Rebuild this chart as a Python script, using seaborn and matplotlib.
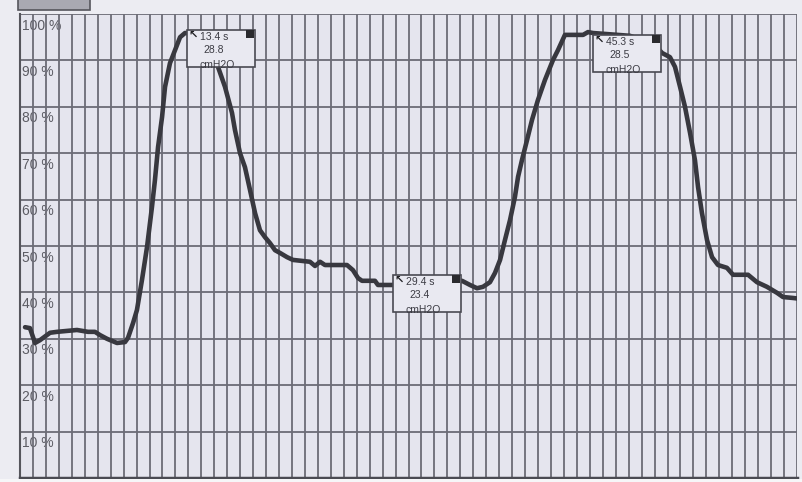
import numpy as np
import pandas as pd
import matplotlib
matplotlib.use("Agg")
import matplotlib.pyplot as plt
import seaborn as sns
from matplotlib.patches import Rectangle

# ---- data ----
time_s = [0.39, 0.77, 1.16, 1.54, 2.32, 2.86, 4.40, 5.25, 5.79, 6.18, 6.72, 7.49, 8.11, 8.34,
          8.73, 9.03, 9.42, 9.81, 10.19, 10.42, 10.66, 10.97, 11.20, 11.58, 11.97, 12.36, 12.74,
          13.90, 14.83, 15.29, 15.83, 16.37, 16.60, 16.99, 17.37, 17.76, 18.15, 18.53, 18.92,
          19.31, 19.69, 20.08, 20.62, 21.08, 22.39, 22.78, 23.17, 23.55, 25.25, 25.71, 26.10,
          26.41, 27.41, 27.64, 28.80, 31.66, 34.13, 34.75, 35.29, 35.75, 36.29, 36.68, 37.07,
          37.45, 37.84, 38.22, 38.46, 38.76, 39.15, 39.54, 40.00, 40.54, 41.16, 41.54, 42.08,
          43.48, 43.86, 44.25, 47.10, 49.03, 49.58, 50.19, 50.58, 50.97, 51.35, 51.74, 52.12,
          52.36, 52.66, 53.05, 53.44, 53.90, 54.59, 55.06, 56.22, 56.91, 57.68, 58.46, 58.92,
          59.69, 60.0]
saturation_pct = [32.5, 32.3, 29.1, 29.7, 31.3, 31.5, 31.9, 31.5, 31.5, 30.8, 30.0, 29.1, 29.3, 30.2,
                  33.4, 36.2, 42.7, 49.8, 58.4, 64.2, 71.3, 77.8, 84.3, 89.4, 92.2, 95.0, 95.9,
                  95.9, 93.3, 88.6, 84.3, 78.7, 75.0, 70.0, 67.0, 62.1, 57.1, 53.4, 51.9,
                  50.6, 49.1, 48.5, 47.6, 47.0, 46.6, 45.7, 46.6, 45.9, 45.9, 44.8, 43.1,
                  42.5, 42.5, 41.6, 41.6, 41.8, 42.5, 41.6, 40.9, 41.2, 42.2, 44.2, 47.0,
                  51.3, 55.6, 60.6, 64.9, 68.5, 72.8, 77.2, 81.5, 85.8, 90.1, 92.2, 95.5,
                  95.5, 96.1, 95.9, 95.3, 93.3, 91.6, 90.7, 88.6, 84.3, 80.0, 74.4, 68.5,
                  62.7, 57.1, 51.3, 47.6, 45.9, 45.3, 43.8, 43.8, 42.2, 41.2, 39.9, 39.0,
                  38.8, 38.7]
y_ticks = [10, 20, 30, 40, 50, 60, 70, 80, 90, 100]
y_tick_labels = ["10 %", "20 %", "30 %", "40 %", "50 %", "60 %", "70 %", "80 %", "90 %", "100 %"]
marker_time_labels = ["13.4 s", "29.4 s", "45.3 s"]
marker_value_labels = ["28.8", "23.4", "28.5"]
marker_unit = "cmH2O"

# ---- layout constants ----
W, H = 802, 482
AX_L, AX_R, AX_TOP, AX_BOT = 20, 797, 14, 478
PX_T = (AX_R - AX_L) / 60.0
PX_P = (AX_BOT - AX_TOP) / 100.0
box_left_px = [187, 393, 593]
box_top_px = [30, 275, 35]
BOX_W, BOX_H = 68, 37

BG = "#e5e5ee"
GRID = "#6c6c76"
LINE = "#38383f"

sns.set_style("white")
plt.rcParams["font.family"] = ["Liberation Sans", "DejaVu Sans"]

fig = plt.figure(figsize=(W / 100, H / 100), dpi=100)
fig.patch.set_facecolor("#ececf2")
ax = fig.add_axes([AX_L / W, (H - AX_BOT) / H, (AX_R - AX_L) / W, (AX_BOT - AX_TOP) / H])
ax.set_facecolor(BG)

df = pd.DataFrame({"t": time_s, "p": saturation_pct})
sns.lineplot(data=df, x="t", y="p", ax=ax, color=LINE, linewidth=3.3,
             estimator=None, sort=False, zorder=3)

ax.set_xlim(0, 60)
ax.set_ylim(0, 100)
ax.set_xticks(np.arange(0, 61, 1))
ax.set_yticks([0] + y_ticks)
ax.grid(True, color=GRID, linewidth=1.3)
ax.set_axisbelow(True)
ax.tick_params(length=0, labelbottom=False, labelleft=False)
ax.set_xlabel("")
ax.set_ylabel("")
for s in ["top", "right"]:
    ax.spines[s].set_visible(False)
ax.spines["left"].set_color("#55555c")
ax.spines["left"].set_linewidth(1.5)
ax.spines["bottom"].set_color("#4a4a52")
ax.spines["bottom"].set_linewidth(2.5)

# y labels inside plot, just below each gridline
for v, lab in zip(y_ticks, y_tick_labels):
    ax.text(0.15, v - 1.0, lab, ha="left", va="top", fontsize=10, color="#5c5c64", zorder=0.4)

# marker boxes
for bl, bt, tl, vl in zip(box_left_px, box_top_px, marker_time_labels, marker_value_labels):
    x0 = (bl - AX_L) / PX_T
    w = BOX_W / PX_T
    ytop = (AX_BOT - bt) / PX_P
    h = BOX_H / PX_P
    rect = Rectangle((x0, ytop - h), w, h, facecolor="#e9e9f1", edgecolor="#4a4a52",
                     linewidth=1.2, zorder=5)
    ax.add_patch(rect)
    sq = Rectangle((x0 + w - 9 / PX_T, ytop - 8 / PX_P), 8 / PX_T, 8 / PX_P,
                   facecolor="#2a2a2e", edgecolor="none", zorder=6)
    ax.add_patch(sq)
    ax.text(x0 + 1.5 / PX_T, ytop - 5 / PX_P, "\u2196", ha="left", va="center", fontsize=8,
            fontweight="bold", color="#202024", family="DejaVu Sans", zorder=6)
    cx = x0 + 27 / PX_T
    ax.text(cx, ytop - 7 / PX_P, tl, ha="center", va="center", fontsize=7.5, color="#3c3c44", zorder=6)
    ax.text(cx, ytop - 20 / PX_P, vl, ha="center", va="center", fontsize=7.5, color="#3c3c44", zorder=6)
    t3 = ax.text(cx + 3 / PX_T, ytop - 35 / PX_P, marker_unit, ha="center", va="center", fontsize=7.5,
                 color="#3c3c44", zorder=6)
    t3.set_clip_path(rect)

# window chrome: white strip at bottom and gray tab at top-left
fig.add_artist(Rectangle((0, 0), 1, 3 / H, transform=fig.transFigure, facecolor="#f6f6f8",
                         edgecolor="none", zorder=10))
fig.add_artist(Rectangle((18 / W, (H - 10) / H), 72 / W, 12 / H, transform=fig.transFigure,
                         facecolor="#a9a9b2", edgecolor="#55555c", linewidth=1.2, zorder=10))

fig.savefig("out.png", dpi=100, facecolor=fig.get_facecolor())
